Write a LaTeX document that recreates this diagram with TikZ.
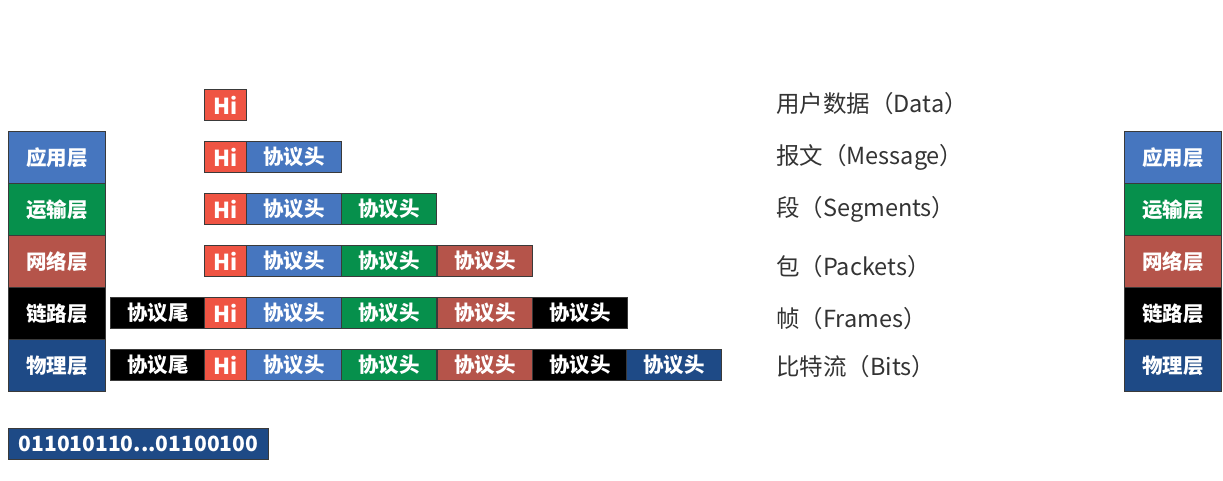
\documentclass[tikz,border=0pt]{standalone}
\usepackage{fontspec}
\setmainfont{Noto Sans CJK SC}
\definecolor{cblue}{HTML}{4676BF}
\definecolor{cgreen}{HTML}{06904C}
\definecolor{cred}{HTML}{B5544A}
\definecolor{cblack}{HTML}{000000}
\definecolor{cnavy}{HTML}{1E4A86}
\definecolor{chi}{HTML}{EF5443}
\definecolor{ctxt}{HTML}{333333}
\definecolor{cedge}{HTML}{3A3A3A}
\tikzset{
  box/.style={draw=cedge, line width=0.8pt, text=white, font=\fontsize{20.5}{20.5}\selectfont\bfseries, inner sep=0pt, anchor=north west},
  layer/.style={box, minimum width=97pt, minimum height=52pt},
  seg/.style={box, minimum width=95pt, minimum height=31pt},
  hi/.style={box, minimum width=42pt, minimum height=31pt, fill=chi, font=\fontsize{22}{22}\selectfont\bfseries},
  lbl/.style={anchor=west, text=ctxt, font=\fontsize{23.5}{23.5}\selectfont, inner sep=0pt}
}
\begin{document}
\begin{tikzpicture}[x=1pt,y=-1pt]
\useasboundingbox (0,0) rectangle (1223,480);
% left layer column
\node[layer, fill=cblue]  (la) at (8,131) {应用层};
\node[layer, fill=cgreen] (lt) at (8,183) {运输层};
\node[layer, fill=cred]   (ln) at (8,235) {网络层};
\node[layer, fill=cblack] (ll) at (8,287) {链路层};
\node[layer, fill=cnavy]  (lp) at (8,339) {物理层};
% right layer column
\node[layer, fill=cblue]  (ra) at (1124,131) {应用层};
\node[layer, fill=cgreen] (rt) at (1124,183) {运输层};
\node[layer, fill=cred]   (rn) at (1124,235) {网络层};
\node[layer, fill=cblack] (rl) at (1124,287) {链路层};
\node[layer, fill=cnavy]  (rp) at (1124,339) {物理层};
% row 1
\node[hi] (h1) at (204,89) {Hi};
% row 2
\node[hi] (h2) at (204,141) {Hi};
\node[seg, fill=cblue] (b2) at (246,141) {协议头};
% row 3
\node[hi] (h3) at (204,193) {Hi};
\node[seg, fill=cblue]  (b3) at (246,193) {协议头};
\node[seg, fill=cgreen] (g3) at (341,193) {协议头};
% row 4
\node[hi] (h4) at (204,245) {Hi};
\node[seg, fill=cblue]  (b4) at (246,245) {协议头};
\node[seg, fill=cgreen] (g4) at (341,245) {协议头};
\node[seg, fill=cred]   (r4) at (437,245) {协议头};
% row 5
\node[seg, fill=cblack] (t5) at (110,297) {协议尾};
\node[hi] (h5) at (204,297) {Hi};
\node[seg, fill=cblue]  (b5) at (246,297) {协议头};
\node[seg, fill=cgreen] (g5) at (341,297) {协议头};
\node[seg, fill=cred]   (r5) at (437,297) {协议头};
\node[seg, fill=cblack] (k5) at (532,297) {协议头};
% row 6
\node[seg, fill=cblack] (t6) at (110,349) {协议尾};
\node[hi] (h6) at (204,349) {Hi};
\node[seg, fill=cblue]  (b6) at (246,349) {协议头};
\node[seg, fill=cgreen] (g6) at (341,349) {协议头};
\node[seg, fill=cred]   (r6) at (437,349) {协议头};
\node[seg, fill=cblack] (k6) at (532,349) {协议头};
\node[seg, fill=cnavy]  (n6) at (626,349) {协议头};
% labels
\node[lbl] (d1) at (776,104) {用户数据（Data）};
\node[lbl] (d2) at (776,157) {报文（Message）};
\node[lbl] (d3) at (776,209) {段（Segments）};
\node[lbl] (d4) at (776,267) {包（Packets）};
\node[lbl] (d5) at (776,319) {帧（Frames）};
\node[lbl] (d6) at (776,367) {比特流（Bits）};
% bit stream
\node[box, fill=cnavy, minimum width=260pt, minimum height=31pt, font=\fontsize{21}{21}\selectfont\bfseries] (bits) at (8,428) {011010110...01100100};
\end{tikzpicture}
\end{document}
